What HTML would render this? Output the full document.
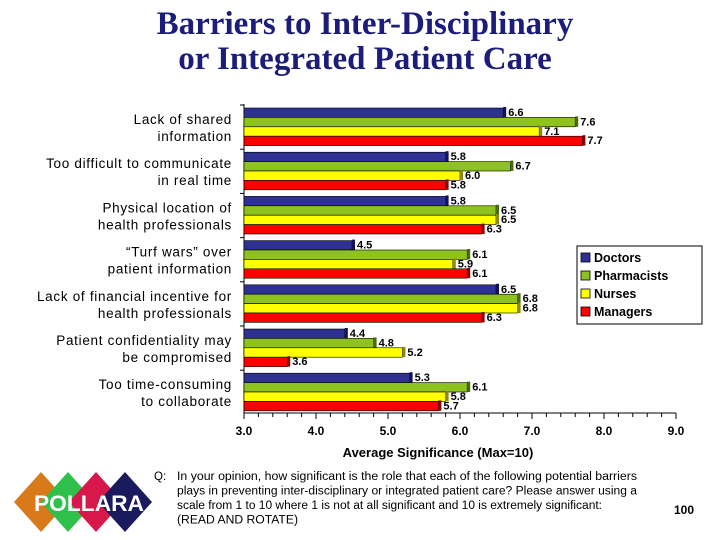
<!DOCTYPE html>
<html><head><meta charset="utf-8">
<style>
body{margin:0;background:#fff;width:720px;height:540px;overflow:hidden;font-family:"Liberation Sans",sans-serif;}
#title{position:absolute;left:0;top:7px;width:730px;text-align:center;font-family:"Liberation Serif",serif;font-weight:bold;font-size:33px;line-height:35px;color:#1c1c7a;}
</style></head><body>
<div id="title">Barriers to Inter-Disciplinary<br>or Integrated Patient Care</div>
<svg id="chart" width="720" height="540" style="position:absolute;left:0;top:0"></svg>
<script>
const categories=[["Lack of shared","information"],["Too difficult to communicate","in real time"],["Physical location of","health professionals"],["\u201cTurf wars\u201d over","patient information"],["Lack of financial incentive for","health professionals"],["Patient confidentiality may","be compromised"],["Too time-consuming","to collaborate"]];
const seriesNames=["Doctors","Pharmacists","Nurses","Managers"];
const doctors=[6.6,5.8,5.8,4.5,6.5,4.4,5.3];
const pharmacists=[7.6,6.7,6.5,6.1,6.8,4.8,6.1];
const nurses=[7.1,6.0,6.5,5.9,6.8,5.2,5.8];
const managers=[7.7,5.8,6.3,6.1,6.3,3.6,5.7];
const tickLabels=["3.0","4.0","5.0","6.0","7.0","8.0","9.0"];
const xMin=3,xMax=9;
const series=[doctors,pharmacists,nurses,managers];
const colors=["#2e3192","#8dc21f","#ffff00","#ff0000"];
const edge=["#10125a","#4a6a10","#8a8a10","#8a0000"];
const NS="http://www.w3.org/2000/svg";
const svg=document.getElementById('chart');
const x0=244,x1=676,axisY=413,groupTop=108,groupStep=44.2,barH=9.4;
function xs(v){return x0+(v-xMin)/(xMax-xMin)*(x1-x0);}
function mk(t,a,p){const e=document.createElementNS(NS,t);for(const k in a)e.setAttribute(k,a[k]);(p||svg).appendChild(e);return e;}
const ax=mk('line',{x1:x0,y1:axisY,x2:x1,y2:axisY,stroke:'#000'});


mk('line',{x1:x0,y1:104,x2:x0,y2:axisY,stroke:'#000'});
for(let v=xMin;v<=xMax+1e-6;v+=0.2){const big=Math.abs(v-Math.round(v))<1e-6;mk('line',{x1:xs(v),y1:axisY,x2:xs(v),y2:axisY+(big?6:4),stroke:'#000'});}
tickLabels.forEach(t=>{const e=mk('text',{x:xs(parseFloat(t)),y:axisY+22,'text-anchor':'middle','font-size':12,'font-weight':'bold'});e.textContent=t;

});
const at=mk('text',{x:438,y:457,'text-anchor':'middle','font-size':13,'font-weight':'bold'});at.textContent="Average Significance (Max=10)";


for(let g=0;g<categories.length;g++){
 const gy=groupTop+g*groupStep;
 mk('line',{x1:x0-4,y1:gy-3,x2:x0,y2:gy-3,stroke:'#000'});
 const lt=mk('text',{x:232,y:gy+16,'text-anchor':'end','font-size':13.5,'letter-spacing':0.7});
 
 
 categories[g].forEach((s,i)=>{const ts=mk('tspan',{x:232,dy:i?17:0},lt);ts.textContent=s;});
 for(let s=0;s<4;s++){
  const v=series[s][g];const y=gy+s*barH;const w=xs(v)-x0;
  const r=mk('rect',{x:x0,y:y,width:w,height:barH,fill:colors[s],stroke:'#000','stroke-width':0.6});
  
  
  mk('rect',{x:xs(v),y:y-1,width:3,height:barH+1,fill:edge[s]});
  const tv=mk('text',{x:xs(v)+5,y:y+8,'font-size':11,'font-weight':'bold'});tv.textContent=v.toFixed(1);
  
  
 }
}
const lg=mk('g',{});


mk('rect',{x:577,y:246,width:125,height:78,fill:'#fff',stroke:'#000'},lg);
seriesNames.forEach((n,i)=>{const y=253+i*18;
 mk('rect',{x:581,y:y,width:9,height:9,fill:colors[i],stroke:'#000','stroke-width':0.8},lg);
 const t=mk('text',{x:594,y:y+9,'font-size':12.5,'font-weight':'bold'},lg);t.textContent=n;
 
 });
const logo=mk('g',{});


[["#d97a1a",41],["#2ec04a",68],["#d8174a",96],["#1a1a5e",125]].forEach(([c,cx])=>{
 mk('polygon',{points:`${cx-27},502 ${cx},472 ${cx+27},502 ${cx},532`,fill:c},logo);});
const lt2=mk('text',{x:34,y:511,'font-size':22,'font-weight':'bold',fill:'#fff',textLength:110,lengthAdjust:'spacingAndGlyphs'},logo);lt2.textContent="POLLARA";
const q=mk('text',{x:154,y:480,'font-size':11.5});q.textContent="Q:";


const qt=mk('text',{x:177,y:480,'font-size':11.5});


[["In your opinion, how significant is the role that each of the following potential barriers",460],["plays in preventing inter-disciplinary or integrated patient care?  Please answer using a",460],["scale from 1 to 10 where 1 is not at all significant and 10 is extremely significant:",425],["(READ AND ROTATE)",121]].forEach(([s,L],i)=>{const ts=mk('tspan',{x:177,y:480+i*14.5,textLength:L,lengthAdjust:'spacingAndGlyphs'},qt);ts.textContent=s;});
const pn=mk('text',{x:674,y:514,'font-size':12,'font-weight':'bold'});pn.textContent="100";


</script>
</body></html>
